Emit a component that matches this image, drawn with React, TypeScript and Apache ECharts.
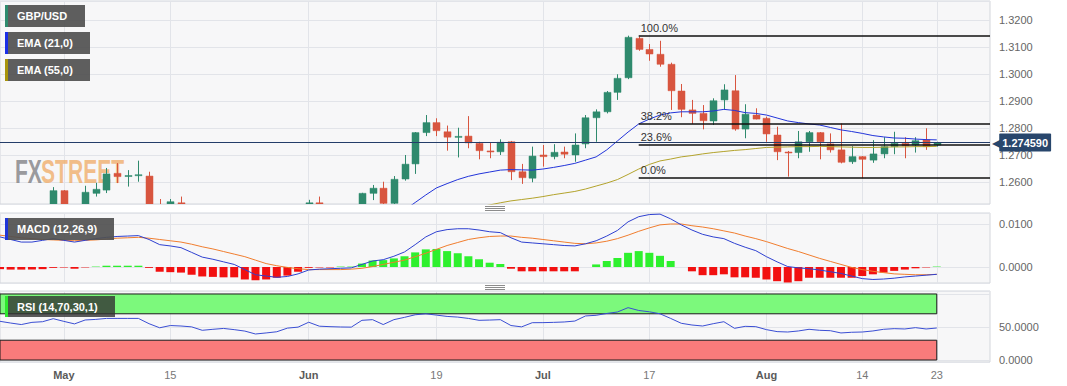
import React, { useEffect, useRef } from 'react';
import * as echarts from 'echarts';

// trading days (2023), plus empty padding days to the right
const dates: string[] = [
  '04-21', '04-24', '04-25', '04-26', '04-27', '04-28',
  '05-01', '05-02', '05-03', '05-04', '05-05', '05-08', '05-09', '05-10', '05-11', '05-12',
  '05-15', '05-16', '05-17', '05-18', '05-19', '05-22', '05-23', '05-24', '05-25', '05-26',
  '05-29', '05-30', '05-31',
  '06-01', '06-02', '06-05', '06-06', '06-07', '06-08', '06-09', '06-12', '06-13', '06-14',
  '06-15', '06-16', '06-19', '06-20', '06-21', '06-22', '06-23', '06-26', '06-27', '06-28',
  '06-29', '06-30',
  '07-03', '07-04', '07-05', '07-06', '07-07', '07-10', '07-11', '07-12', '07-13', '07-14',
  '07-17', '07-18', '07-19', '07-20', '07-21', '07-24', '07-25', '07-26', '07-27', '07-28',
  '07-31',
  '08-01', '08-02', '08-03', '08-04', '08-07', '08-08', '08-09', '08-10', '08-11',
  '08-14', '08-15', '08-16', '08-17', '08-18', '08-21', '08-22', '08-23',
  '08-24', '08-25', '08-28', '08-29', '08-30',
];

const tickLabels: Record<string, string> = {
  '05-01': 'May', '05-15': '15', '06-01': 'Jun', '06-19': '19', '07-03': 'Jul',
  '07-17': '17', '08-01': 'Aug', '08-14': '14', '08-23': '23',
};
const monthLabels = ['May', 'Jun', 'Jul', 'Aug'];

// [open, high, low, close]
const ohlc: (number[] | null)[] = [
  null,
  [1.2440, 1.2475, 1.2420, 1.2465], [1.2465, 1.2480, 1.2400, 1.2410], [1.2410, 1.2485, 1.2390, 1.2470],
  [1.2470, 1.2495, 1.2440, 1.2485], [1.2485, 1.2581, 1.2470, 1.2568],
  [1.2568, 1.2570, 1.2485, 1.2495], [1.2495, 1.2512, 1.2440, 1.2490], [1.2490, 1.2586, 1.2480, 1.2562],
  [1.2558, 1.2597, 1.2546, 1.2573], [1.2570, 1.2652, 1.2559, 1.2630],
  [1.2632, 1.2670, 1.2596, 1.2620], [1.2621, 1.2644, 1.2583, 1.2624], [1.2624, 1.2679, 1.2601, 1.2627],
  [1.2622, 1.2638, 1.2480, 1.2490], [1.2495, 1.2537, 1.2440, 1.2445],
  [1.2450, 1.2537, 1.2440, 1.2527], [1.2523, 1.2546, 1.2470, 1.2490], [1.2490, 1.2510, 1.2440, 1.2450],
  [1.2450, 1.2470, 1.2390, 1.2415], [1.2415, 1.2480, 1.2400, 1.2445],
  [1.2445, 1.2470, 1.2410, 1.2430], [1.2430, 1.2450, 1.2390, 1.2410], [1.2410, 1.2420, 1.2330, 1.2345],
  [1.2345, 1.2380, 1.2310, 1.2340], [1.2340, 1.2390, 1.2300, 1.2345],
  [1.2345, 1.2370, 1.2320, 1.2335], [1.2335, 1.2410, 1.2310, 1.2385], [1.2385, 1.2450, 1.2370, 1.2440],
  [1.2440, 1.2534, 1.2430, 1.2523], [1.2523, 1.2546, 1.2440, 1.2445],
  [1.2445, 1.2470, 1.2390, 1.2435], [1.2435, 1.2480, 1.2370, 1.2435], [1.2435, 1.2500, 1.2410, 1.2490],
  [1.2490, 1.2560, 1.2480, 1.2558], [1.2558, 1.2589, 1.2533, 1.2577],
  [1.2577, 1.2601, 1.2500, 1.2521], [1.2521, 1.2622, 1.2505, 1.2610], [1.2611, 1.2700, 1.2605, 1.2666],
  [1.2667, 1.2785, 1.2630, 1.2783], [1.2783, 1.2848, 1.2770, 1.2820],
  [1.2820, 1.2836, 1.2770, 1.2790], [1.2786, 1.2809, 1.2716, 1.2766], [1.2766, 1.2801, 1.2691, 1.2769],
  [1.2770, 1.2844, 1.2725, 1.2745], [1.2743, 1.2749, 1.2684, 1.2716],
  [1.2715, 1.2745, 1.2688, 1.2712], [1.2712, 1.2758, 1.2700, 1.2747], [1.2749, 1.2752, 1.2607, 1.2638],
  [1.2638, 1.2667, 1.2593, 1.2616], [1.2614, 1.2731, 1.2599, 1.2696],
  [1.2700, 1.2737, 1.2657, 1.2694], [1.2694, 1.2740, 1.2684, 1.2710], [1.2711, 1.2731, 1.2688, 1.2703],
  [1.2700, 1.2780, 1.2675, 1.2737], [1.2741, 1.2848, 1.2725, 1.2838],
  [1.2838, 1.2869, 1.2749, 1.2860], [1.2860, 1.2937, 1.2854, 1.2932], [1.2932, 1.2999, 1.2904, 1.2984],
  [1.2986, 1.3142, 1.2981, 1.3136], [1.3132, 1.3138, 1.3086, 1.3091],
  [1.3091, 1.3111, 1.3049, 1.3074], [1.3073, 1.3123, 1.3027, 1.3036], [1.3036, 1.3042, 1.2867, 1.2938],
  [1.2937, 1.2963, 1.2840, 1.2869], [1.2867, 1.2904, 1.2815, 1.2854],
  [1.2854, 1.2885, 1.2795, 1.2827], [1.2826, 1.2910, 1.2811, 1.2901], [1.2904, 1.2962, 1.2869, 1.2941],
  [1.2938, 1.2996, 1.2790, 1.2796], [1.2796, 1.2888, 1.2762, 1.2851],
  [1.2848, 1.2873, 1.2832, 1.2833],
  [1.2836, 1.2842, 1.2749, 1.2778], [1.2774, 1.2805, 1.2681, 1.2712], [1.2711, 1.2715, 1.2620, 1.2709],
  [1.2709, 1.2789, 1.2688, 1.2749],
  [1.2749, 1.2789, 1.2712, 1.2783], [1.2783, 1.2785, 1.2684, 1.2749], [1.2741, 1.2780, 1.2709, 1.2719],
  [1.2719, 1.2817, 1.2669, 1.2673], [1.2675, 1.2733, 1.2667, 1.2694],
  [1.2694, 1.2696, 1.2614, 1.2684], [1.2681, 1.2755, 1.2671, 1.2704], [1.2704, 1.2766, 1.2688, 1.2731],
  [1.2731, 1.2786, 1.2703, 1.2743], [1.2743, 1.2766, 1.2688, 1.2734],
  [1.2737, 1.2766, 1.2709, 1.2753], [1.2756, 1.2799, 1.2719, 1.2731], [1.2737, 1.2749, 1.2731, 1.27459],
];

const lastPrice = 1.27459;

const ema21Start = 36;
const ema21 = [
  1.2440, 1.2468, 1.2496, 1.2524, 1.2552, 1.2578, 1.2594, 1.2609, 1.2621, 1.2630,
  1.2637, 1.2644, 1.2646, 1.2645, 1.2644, 1.2648, 1.2654, 1.2661, 1.2669, 1.2681,
  1.2693, 1.2719, 1.2752, 1.2785, 1.2815, 1.2833, 1.2848, 1.2856, 1.2860, 1.2860,
  1.2860, 1.2863, 1.2869, 1.2865, 1.2857, 1.2854, 1.2848, 1.2837, 1.2826, 1.2820,
  1.2815, 1.2811, 1.2802, 1.2793, 1.2787, 1.2780, 1.2772, 1.2767, 1.2763, 1.2762,
  1.2759, 1.2757, 1.2756,
];

const ema55Start = 44;
const ema55 = [
  1.2500, 1.2507, 1.2515, 1.2523, 1.2530, 1.2535,
  1.2540, 1.2546, 1.2553, 1.2559, 1.2565, 1.2574, 1.2585, 1.2596, 1.2609, 1.2628,
  1.2648, 1.2665, 1.2678, 1.2685, 1.2693, 1.2698, 1.2704, 1.2709, 1.2713, 1.2717,
  1.2720, 1.2724, 1.2728, 1.2729, 1.2730, 1.2731, 1.2731, 1.2732, 1.2731, 1.2730,
  1.2729, 1.2728, 1.2728, 1.2729, 1.2730, 1.2730, 1.2731, 1.2731, 1.2732,
];

const fibLevels = [
  { label: '100.0%', value: 1.3141 },
  { label: '38.2%', value: 1.2816 },
  { label: '23.6%', value: 1.2739 },
  { label: '0.0%', value: 1.2615 },
];
const fibFrom = '07-14';
const fibTo = '08-30';

const macdLine = [
  0.0070, 0.0064, 0.0058, 0.0058, 0.0062, 0.0066, 0.0062, 0.0058, 0.0062, 0.0066,
  0.0069, 0.0071, 0.0072, 0.0073, 0.0064, 0.0052, 0.0049, 0.0045, 0.0034, 0.0023,
  0.0018, 0.0012, 0.0006, -0.0006, -0.0018, -0.0021, -0.0024, -0.0022, -0.0016, -0.0007,
  -0.0005, -0.0004, -0.0003, -0.0002, 0.0006, 0.0014, 0.0017, 0.0025, 0.0035, 0.0052,
  0.0070, 0.0082, 0.0087, 0.0089, 0.0089, 0.0086, 0.0082, 0.0080, 0.0068, 0.0058,
  0.0056, 0.0054, 0.0052, 0.0050, 0.0049, 0.0054, 0.0061, 0.0072, 0.0085, 0.0105,
  0.0117, 0.0122, 0.0123, 0.0112, 0.0098, 0.0086, 0.0076, 0.0070, 0.0066, 0.0055,
  0.0046, 0.0038, 0.0024, 0.0012, 0.0001, -0.0002, -0.0004, -0.0007, -0.0011, -0.0015,
  -0.0021, -0.0027, -0.0029, -0.0028, -0.0026, -0.0023, -0.0021, -0.0019, -0.0017,
];
const signalLine = [
  0.0074, 0.0071, 0.0068, 0.0066, 0.0064, 0.0063, 0.0062, 0.0061, 0.0062, 0.0063,
  0.0065, 0.0067, 0.0068, 0.0069, 0.0067, 0.0064, 0.0061, 0.0058, 0.0053, 0.0047,
  0.0042, 0.0036, 0.0030, 0.0024, 0.0016, 0.0008, 0.0003, -0.0001, -0.0004, -0.0006,
  -0.0006, -0.0006, -0.0006, -0.0005, -0.0003, 0.0001, 0.0006, 0.0011, 0.0016, 0.0024,
  0.0032, 0.0041, 0.0050, 0.0057, 0.0064, 0.0068, 0.0071, 0.0072, 0.0072, 0.0069,
  0.0067, 0.0064, 0.0061, 0.0058, 0.0055, 0.0054, 0.0056, 0.0060, 0.0066, 0.0074,
  0.0083, 0.0091, 0.0098, 0.0100, 0.0100, 0.0096, 0.0093, 0.0089, 0.0084, 0.0079,
  0.0072, 0.0066, 0.0059, 0.0051, 0.0043, 0.0036, 0.0028, 0.0020, 0.0013, 0.0006,
  -0.0001, -0.0006, -0.0010, -0.0013, -0.0016, -0.0017, -0.0018, -0.0018, -0.0017,
];
const macdHist = [
  -0.0005, -0.0006, -0.0006, -0.0006, -0.0005, -0.0002, -0.0001, -0.0004, -0.0001, 0.0001,
  0.0003, 0.0003, 0.0003, 0.0003, -0.0002, -0.0011, -0.0012, -0.0013, -0.0018, -0.0022,
  -0.0023, -0.0024, -0.0024, -0.0029, -0.0031, -0.0029, -0.0025, -0.0020, -0.0011, -0.0002,
  -0.0001, -0.0001, 0.0001, 0.0001, 0.0008, 0.0015, 0.0016, 0.0020, 0.0025, 0.0034,
  0.0041, 0.0042, 0.0037, 0.0032, 0.0025, 0.0018, 0.0010, 0.0007, -0.0004, -0.0010,
  -0.0010, -0.0010, -0.0010, -0.0010, -0.0010, 0.0000, 0.0006, 0.0014, 0.0021, 0.0033,
  0.0037, 0.0033, 0.0026, 0.0014, 0.0000, -0.0010, -0.0019, -0.0019, -0.0017, -0.0024,
  -0.0024, -0.0025, -0.0029, -0.0033, -0.0036, -0.0033, -0.0025, -0.0025, -0.0025, -0.0025,
  -0.0025, -0.0021, -0.0017, -0.0013, -0.0009, -0.0006, -0.0003, -0.0001, 0.0001,
];
const rsi = [
  58.6, 56, 53.7, 57, 58, 62.6, 58.5, 54.7, 60.6, 61.5,
  63, 63, 63, 63, 55, 48.8, 52.2, 51.5, 50.2, 45,
  46.5, 47.8, 46, 43.8, 39.4, 41, 42.8, 48.3, 49.8, 57.2,
  51.2, 50.5, 50, 49.8, 60.1, 61.1, 53.7, 61.1, 64.6, 68.5,
  70, 68, 66, 65, 63, 60.1, 60.5, 61.1, 52.2, 50.2,
  56.5, 56.6, 57, 57.6, 59, 66.7, 67.7, 70.5, 72.7, 79.3,
  75, 73, 70, 63, 55.6, 53, 51.5, 55, 58, 48,
  51, 50.5, 46, 43, 42.4, 44, 46.5, 45, 44.4, 41,
  42, 42.4, 44, 46.5, 47.5, 47, 49, 47, 48.5,
];
const rsiUpper = 70;
const rsiLower = 30;
const rsiFirst = '04-21';
const rsiLast = '08-23';

const FONT = "'Liberation Sans', Arial, sans-serif";
const GREEN = '#2f8a6d';
const RED = '#d8553f';
const PANEL_BG = '#f7f7f8';
const BORDER = '#d3d6dc';
const GRIDLINE = '#e2e4e9';
const CANDLE_WIDTH = 7;

function pad(arr: (number | null)[], start: number): (number | string)[] {
  return dates.map((_, i) => {
    const v = i - start >= 0 && i - start < arr.length ? arr[i - start] : null;
    return v == null ? '-' : v;
  });
}

const showTick = (index: number) => tickLabels[dates[index]] !== undefined;

function xAxisFor(gridIndex: number, withLabels: boolean) {
  return {
    type: 'category',
    gridIndex,
    data: dates,
    boundaryGap: false,
    axisLine: { show: false },
    axisTick: { show: false },
    axisPointer: { show: false },
    axisLabel: withLabels
      ? {
          show: true,
          interval: (index: number) => showTick(index),
          margin: 7,
          formatter: (value: string) => {
            const t = tickLabels[value];
            if (!t) return '';
            return monthLabels.includes(t) ? `{m|${t}}` : `{d|${t}}`;
          },
          rich: {
            m: { fontWeight: 'bold', color: '#5a5a5a', fontSize: 11, fontFamily: FONT },
            d: { color: '#777', fontSize: 11, fontFamily: FONT },
          },
        }
      : { show: false },
    splitLine: {
      show: true,
      interval: (index: number) => showTick(index),
      lineStyle: { color: GRIDLINE, width: 1 },
    },
  };
}

function legendBox(x: number, y: number, w: number, h: number, bar: string, text: string, bg: string) {
  return {
    type: 'group',
    z: 100,
    children: [
      { type: 'rect', z: 100, shape: { x, y, width: w, height: h }, style: { fill: bg } },
      { type: 'rect', z: 101, shape: { x, y, width: 3, height: h }, style: { fill: bar } },
      {
        type: 'text', z: 102, x: x + 12, y: y + h / 2,
        style: { text, fill: '#ffffff', font: `bold 11px ${FONT}`, verticalAlign: 'middle', align: 'left' },
      },
    ],
  };
}

function handle(cx: number, y: number) {
  return [0, 2, 4].map((d) => ({
    type: 'line',
    z: 50,
    shape: { x1: cx - 10, y1: y + d + 0.5, x2: cx + 10, y2: y + d + 0.5 },
    style: { stroke: '#8c8c8c', lineWidth: 1 },
  }));
}

function renderCandle(params: any, api: any) {
  const idx = api.value(0);
  const o = api.value(1);
  const c = api.value(2);
  const l = api.value(3);
  const h = api.value(4);
  const pO = api.coord([idx, o]);
  const pC = api.coord([idx, c]);
  const pL = api.coord([idx, l]);
  const pH = api.coord([idx, h]);
  const color = c >= o ? GREEN : RED;
  const xc = Math.round(pO[0]) + 0.5;
  const top = Math.min(pO[1], pC[1]);
  const bodyH = Math.max(1, Math.abs(pO[1] - pC[1]));
  return {
    type: 'group',
    children: [
      {
        type: 'line',
        shape: { x1: xc, y1: pH[1], x2: xc, y2: pL[1] },
        style: { stroke: color, lineWidth: 1 },
      },
      {
        type: 'rect',
        shape: { x: xc - CANDLE_WIDTH / 2, y: top, width: CANDLE_WIDTH, height: bodyH },
        style: { fill: color, stroke: color, lineWidth: 0.5 },
      },
    ],
  };
}

export default function App() {
  const ref = useRef<HTMLDivElement>(null);

  useEffect(() => {
    document.body.style.margin = '0';
    const chart = echarts.init(ref.current as HTMLDivElement, null, { renderer: 'svg' });

    const candleData: number[][] = [];
    dates.forEach((_, i) => {
      const r = ohlc[i];
      if (r) candleData.push([i, r[0], r[3], r[2], r[1]]);
    });

    const gridCommon = {
      left: 0,
      width: 990,
      show: true,
      backgroundColor: PANEL_BG,
      borderColor: BORDER,
      borderWidth: 1,
    };

    const yLabel = { color: '#666', fontSize: 11, fontFamily: FONT, margin: 9 };

    const option: any = {
      animation: false,
      backgroundColor: '#ffffff',
      textStyle: { fontFamily: FONT },
      grid: [
        { ...gridCommon, top: 1, height: 203 },
        { ...gridCommon, top: 213, height: 70 },
        { ...gridCommon, top: 291, height: 71 },
      ],
      xAxis: [xAxisFor(0, false), xAxisFor(1, false), xAxisFor(2, true)],
      yAxis: [
        {
          type: 'value', gridIndex: 0, position: 'right', scale: true,
          min: 1.25185, max: 1.32704, splitNumber: 8,
          axisLine: { show: false }, axisTick: { show: false },
          axisLabel: { ...yLabel, showMinLabel: false, showMaxLabel: false, formatter: (v: number) => v.toFixed(4) },
          splitLine: { show: true, lineStyle: { color: GRIDLINE } },
        },
        {
          type: 'value', gridIndex: 1, position: 'right',
          min: -0.00372, max: 0.01256, splitNumber: 2,
          axisLine: { show: false }, axisTick: { show: false },
          axisLabel: { ...yLabel, showMinLabel: false, showMaxLabel: false, formatter: (v: number) => v.toFixed(4) },
          splitLine: { show: true, lineStyle: { color: GRIDLINE } },
        },
        {
          type: 'value', gridIndex: 2, position: 'right',
          min: -3, max: 104.5, splitNumber: 2,
          axisLine: { show: false }, axisTick: { show: false },
          axisLabel: {
            ...yLabel, showMinLabel: false, showMaxLabel: false,
            formatter: (v: number) => (v === 0 || v === 50 ? v.toFixed(4) : ''),
          },
          splitLine: { show: true, lineStyle: { color: GRIDLINE } },
        },
      ],
      series: [
        {
          type: 'custom',
          name: 'GBP/USD',
          xAxisIndex: 0, yAxisIndex: 0,
          data: candleData,
          encode: { x: 0, y: [1, 2, 3, 4] },
          renderItem: renderCandle,
          clip: true,
          z: 3,
        },
        {
          type: 'line', name: 'EMA (21,0)', xAxisIndex: 0, yAxisIndex: 0,
          data: pad(ema21, ema21Start), showSymbol: false, symbol: 'none', z: 4,
          lineStyle: { color: '#2234d9', width: 1 },
          markLine: {
            silent: true,
            symbol: ['none', 'none'],
            animation: false,
            precision: 6,
            data: [
              ...fibLevels.map((f) => [
                {
                  coord: [fibFrom, f.value],
                  lineStyle: { color: '#111', width: 1.5, type: 'solid' },
                  label: {
                    show: true, position: 'insideStartTop', formatter: f.label,
                    color: '#333', fontSize: 11, fontFamily: FONT, distance: [2, 2],
                  },
                },
                { coord: [fibTo, f.value] },
              ]),
              {
                yAxis: lastPrice,
                lineStyle: { color: '#243d69', width: 1.2, type: 'solid' },
                label: {
                  show: true,
                  position: 'end',
                  distance: 2,
                  formatter: `{a|◀}{b|${lastPrice.toFixed(6)}}`,
                  rich: {
                    a: { color: '#28466c', fontSize: 12, fontFamily: 'DejaVu Sans', padding: [0, -2, 0, 0] },
                    b: {
                      backgroundColor: '#28466c', color: '#ffffff', fontWeight: 'bold',
                      fontSize: 11, fontFamily: FONT, padding: [4, 3, 3, 3], borderRadius: 1,
                    },
                  },
                },
              },
            ],
          },
        },
        {
          type: 'line', name: 'EMA (55,0)', xAxisIndex: 0, yAxisIndex: 0,
          data: pad(ema55, ema55Start), showSymbol: false, symbol: 'none', z: 4,
          lineStyle: { color: '#b3a32c', width: 1 },
        },
        {
          type: 'bar', name: 'hist', xAxisIndex: 1, yAxisIndex: 1,
          barWidth: 8,
          data: dates.map((_, i) => {
            const v = macdHist[i];
            if (v == null) return '-';
            return { value: v, itemStyle: { color: v >= 0 ? '#2ef02e' : '#f21010' } };
          }),
        },
        {
          type: 'line', name: 'MACD', xAxisIndex: 1, yAxisIndex: 1,
          data: pad(macdLine, 0), symbol: 'none', z: 4,
          lineStyle: { color: '#2e40d0', width: 1 },
        },
        {
          type: 'line', name: 'Signal', xAxisIndex: 1, yAxisIndex: 1,
          data: pad(signalLine, 0), symbol: 'none', z: 3,
          lineStyle: { color: '#f07d2e', width: 1 },
        },
        {
          type: 'line', name: 'RSI', xAxisIndex: 2, yAxisIndex: 2,
          data: pad(rsi, 0), symbol: 'none', z: 4,
          lineStyle: { color: '#3a4ed3', width: 1 },
          markArea: {
            silent: true,
            data: [
              [
                { coord: [rsiFirst, 100], itemStyle: { color: '#7cf97c', borderColor: '#1a1a1a', borderWidth: 1 } },
                { coord: [rsiLast, rsiUpper] },
              ],
              [
                { coord: [rsiFirst, rsiLower], itemStyle: { color: '#f97b7b', borderColor: '#1a1a1a', borderWidth: 1 } },
                { coord: [rsiLast, 0] },
              ],
            ],
          },
        },
      ],
      graphic: {
        elements: [
          {
            type: 'text', z: 1, x: 15, y: 171, scaleX: 0.62,
            style: { text: 'FX', fill: 'rgba(128,128,132,0.8)', font: `bold 34px ${FONT}`, verticalAlign: 'middle' },
          },
          {
            type: 'text', z: 1, x: 41, y: 171, scaleX: 0.62,
            style: { text: 'STREET', fill: 'rgba(240,170,100,0.75)', font: `bold 34px ${FONT}`, verticalAlign: 'middle' },
          },
          legendBox(5, 5, 80, 22, '#2e8b6e', 'GBP/USD', 'rgba(80,80,80,0.92)'),
          legendBox(5, 32, 85, 22, '#1a2ee6', 'EMA (21,0)', 'rgba(80,80,80,0.92)'),
          legendBox(5, 59, 85, 22, '#a8940c', 'EMA (55,0)', 'rgba(80,80,80,0.92)'),
          legendBox(5, 218, 109, 22, '#1f35d8', 'MACD (12,26,9)', 'rgba(80,80,80,0.92)'),
          legendBox(5, 296, 110, 21, '#2ee82e', 'RSI (14,70,30,1)', 'rgba(50,50,50,0.8)'),
          ...handle(495, 206),
          ...handle(495, 285),
        ],
      },
    };

    chart.setOption(option);
    return () => chart.dispose();
  }, []);

  return <div ref={ref} style={{ width: 1067, height: 386 }} />;
}
